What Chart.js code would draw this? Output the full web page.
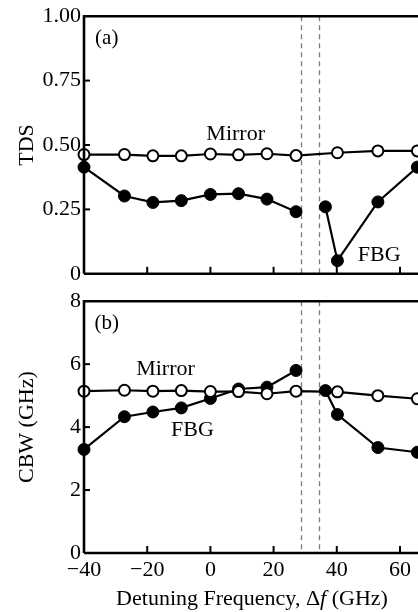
<!DOCTYPE html>
<html>
<head>
<meta charset="utf-8">
<script src="https://cdn.jsdelivr.net/npm/chart.js@4"></script>
<style>
  html, body { margin: 0; padding: 0; background: #fff; overflow: hidden; }
  #wrap { position: relative; width: 418px; height: 612px; }
  .panel { position: absolute; left: 0; width: 418px; }
  #top { top: 0; height: 290px; }
  #bot { top: 285px; height: 327px; }
</style>
</head>
<body>
<div id="wrap">
  <div class="panel" id="top"><canvas id="tds-chart"></canvas></div>
  <div class="panel" id="bot"><canvas id="cbw-chart"></canvas></div>
</div>
<script>
// detuning frequencies (GHz)
let freq = [-40, -27.2, -18.2, -9.2, 0, 8.9, 17.9, 27.1, 40.2, 53, 65.5];
let freq_fbg = [-40, -27.2, -18.2, -9.2, 0, 8.9, 17.9, 27.1, 32, 36.4, 40.2, 53, 65.5];

// TDS, panel (a)
let tds_mirror = [0.463, 0.463, 0.458, 0.458, 0.465, 0.462, 0.466, 0.459, 0.470, 0.477, 0.477];
let tds_fbg = [0.414, 0.302, 0.277, 0.284, 0.308, 0.311, 0.290, 0.241, null, 0.260, 0.051, 0.279, 0.414];

// CBW in GHz, panel (b)
let cbw_mirror = [5.14, 5.17, 5.14, 5.16, 5.13, 5.13, 5.06, 5.14, 5.12, 5.00, 4.90];
let cbw_fbg = [3.29, 4.33, 4.48, 4.61, 4.91, 5.21, 5.27, 5.80, null, 5.16, 4.40, 3.35, 3.20];

// edges of the stop band (dashed)
let band_edges = [28.7, 34.5];

// x axis title, the "f" is set in italics
let x_title = ['Detuning Frequency, \u0394', 'f', ' (GHz)'];

let x_min = -40, x_max = 65.7;

const SERIF = "'Liberation Serif', 'DejaVu Serif', serif";
Chart.defaults.font.family = SERIF;
Chart.defaults.font.size = 22;
Chart.defaults.color = '#000';

const pts = (xs, ys) => xs.map((x, i) => ({x: x, y: ys[i]}));
const minus = v => v < 0 ? '\u2212' + Math.abs(v) : '' + v;

// frame, inward ticks, dashed band edges and text labels
const decor = {
  id: 'decor',
  beforeDatasetsDraw(chart, args, opts) {
    const ctx = chart.ctx, a = chart.chartArea;
    const xs = chart.scales.x;
    ctx.save();
    ctx.strokeStyle = '#6f7f88';
    ctx.lineWidth = 1.3;
    ctx.setLineDash([5, 4]);
    band_edges.forEach(f => {
      const px = Math.round(xs.getPixelForValue(f)) + 0.5;
      ctx.beginPath();
      ctx.moveTo(px, a.top);
      ctx.lineTo(px, a.bottom);
      ctx.stroke();
    });
    ctx.restore();
  },
  afterDatasetsDraw(chart, args, opts) {
    const ctx = chart.ctx, a = chart.chartArea;
    const xs = chart.scales.x, ys = chart.scales.y;
    ctx.save();
    ctx.strokeStyle = '#000';
    ctx.lineWidth = 2.6;
    ctx.beginPath();
    ctx.moveTo(a.left, a.bottom);
    ctx.lineTo(a.left, a.top);
    ctx.lineTo(a.right + 5, a.top);
    ctx.moveTo(a.left, a.bottom);
    ctx.lineTo(a.right + 5, a.bottom);
    ctx.stroke();
    ctx.lineWidth = 2;
    xs.ticks.forEach(t => {
      if (t.value <= x_min) return;
      const px = xs.getPixelForValue(t.value);
      ctx.beginPath();
      ctx.moveTo(px, a.bottom);
      ctx.lineTo(px, a.bottom - 7);
      ctx.stroke();
    });
    ys.ticks.forEach(t => {
      if (t.value <= ys.min || t.value >= ys.max) return;
      const py = ys.getPixelForValue(t.value);
      ctx.beginPath();
      ctx.moveTo(a.left, py);
      ctx.lineTo(a.left + 6, py);
      ctx.stroke();
    });
    ctx.fillStyle = '#000';
    ctx.textAlign = 'center';
    ctx.textBaseline = 'middle';
    (opts.labels || []).forEach(l => {
      ctx.font = (l.size || 22) + 'px ' + SERIF;
      ctx.fillText(l.text, xs.getPixelForValue(l.x), ys.getPixelForValue(l.y));
    });
    // x title with mixed upright / italic pieces
    if (opts.xTitle) {
      const fonts = ['22px ' + SERIF, 'italic 22px ' + SERIF, '22px ' + SERIF];
      let widths = x_title.map((s, i) => { ctx.font = fonts[i]; return ctx.measureText(s).width; });
      let total = widths.reduce((p, w) => p + w, 0);
      let x = (a.left + 418) / 2 - total / 2 + 1;
      const y = xs.bottom - 13;
      ctx.textAlign = 'left';
      ctx.textBaseline = 'middle';
      x_title.forEach((s, i) => {
        ctx.font = fonts[i];
        ctx.fillText(s, x, y);
        x += widths[i];
      });
    }
    ctx.restore();
  }
};

function makePanel(id, mirror, fbg, yMax, yStep, yTitle, yFmt, labels, showX, pad) {
  return new Chart(document.getElementById(id), {
    type: 'scatter',
    data: {
      datasets: [
        {
          label: 'Mirror',
          data: pts(freq, mirror),
          showLine: true,
          borderColor: '#000',
          borderWidth: 2.2,
          pointRadius: 5.5,
          pointBorderWidth: 2,
          pointBackgroundColor: '#fff',
          pointBorderColor: '#000',
          clip: false
        },
        {
          label: 'FBG',
          data: pts(freq_fbg, fbg),
          showLine: true,
          spanGaps: false,
          borderColor: '#000',
          borderWidth: 2.2,
          pointRadius: 6,
          pointBorderWidth: 1,
          pointBackgroundColor: '#000',
          pointBorderColor: '#000',
          clip: false
        }
      ]
    },
    options: {
      responsive: true,
      maintainAspectRatio: false,
      animation: false,
      layout: { padding: pad, autoPadding: false },
      plugins: {
        legend: { display: false },
        tooltip: { enabled: false },
        decor: { labels: labels, xTitle: showX }
      },
      scales: {
        x: {
          type: 'linear',
          min: x_min,
          max: x_max,
          grid: { display: false, drawTicks: false },
          border: { display: false },
          ticks: {
            display: showX,
            stepSize: 20,
            padding: 4,
            maxRotation: 0,
            includeBounds: false,
            callback: v => minus(v)
          },
          title: { display: false },
          afterFit: s => {
            s.height = showX ? 59 : 0;
            s.paddingLeft = 0;
            s.paddingRight = 0;
          }
        },
        y: {
          min: 0,
          max: yMax,
          grid: { display: false, drawTicks: false },
          border: { display: false },
          ticks: { stepSize: yStep, padding: 3, callback: yFmt },
          title: { display: true, text: yTitle, padding: { top: 14, bottom: 0 } },
          afterFit: s => { s.width = 84; }
        }
      }
    },
    plugins: [decor]
  });
}

makePanel('tds-chart', tds_mirror, tds_fbg, 1, 0.25, 'TDS',
  v => v === 0 ? '0' : v.toFixed(2),
  [
    { text: '(a)', x: -32.8, y: 0.915, size: 21 },
    { text: 'Mirror', x: 8, y: 0.54 },
    { text: 'FBG', x: 53.4, y: 0.073 }
  ],
  false, { top: 15, bottom: 16, left: 0, right: 0 });

makePanel('cbw-chart', cbw_mirror, cbw_fbg, 8, 2, 'CBW (GHz)',
  v => '' + v,
  [
    { text: '(b)', x: -32.8, y: 7.3, size: 21 },
    { text: 'Mirror', x: -14.2, y: 5.85 },
    { text: 'FBG', x: -5.7, y: 3.9 }
  ],
  true, { top: 14, bottom: 0, left: 0, right: 0 });
</script>
</body>
</html>
